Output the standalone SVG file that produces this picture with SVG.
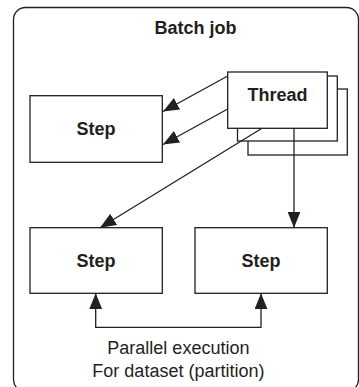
<svg xmlns="http://www.w3.org/2000/svg" width="359" height="387" viewBox="0 0 359 387">
<style>
.box{fill:#fff;stroke:#231f20;stroke-width:1.3}
.frame{fill:#fff;stroke:#231f20;stroke-width:1.3}
.lbl{font-family:"Liberation Sans",Arial,sans-serif;font-size:18px;font-weight:bold;fill:#231f20;text-anchor:middle}
.note{font-family:"Liberation Sans",Arial,sans-serif;font-size:18px;fill:#231f20;text-anchor:middle}
.conn{fill:none;stroke:#231f20;stroke-width:1.3}
</style>
<defs>
<marker id="ah" markerUnits="userSpaceOnUse" markerWidth="16" markerHeight="13" refX="16" refY="6.5" orient="auto-start-reverse" viewBox="0 0 16 13">
<path d="M0,0 L16,6.5 L0,13 z" fill="#231f20"/>
</marker>
</defs>
<g id="batch-job">
<rect class="frame" x="13.5" y="7.5" width="345" height="384" rx="12" ry="12"/>
<text class="lbl" x="195.5" y="34.3">Batch job</text>
</g>
<g id="thread">
<rect class="box" x="248" y="89" width="99.3" height="66"/>
<rect class="box" x="237.5" y="76" width="99.8" height="65"/>
<rect class="box" x="227.7" y="72" width="99.6" height="56.3"/>
<text class="lbl" x="277.5" y="100.7">Thread</text>
</g>
<g id="step-top">
<rect class="box" x="30" y="95.7" width="132.3" height="66.6"/>
<text class="lbl" x="96" y="135">Step</text>
</g>
<g id="step-bottom-left">
<rect class="box" x="30" y="227.7" width="132.3" height="65.6"/>
<text class="lbl" x="96" y="266.7">Step</text>
</g>
<g id="step-bottom-right">
<rect class="box" x="195" y="227.7" width="132.3" height="65.6"/>
<text class="lbl" x="261" y="266.7">Step</text>
</g>
<g id="connectors">
<line class="conn" x1="227.7" y1="76" x2="163" y2="111.5" marker-end="url(#ah)"/>
<line class="conn" x1="227.7" y1="109" x2="163" y2="144.5" marker-end="url(#ah)"/>
<line class="conn" x1="262" y1="128.3" x2="100" y2="227.7" marker-end="url(#ah)"/>
<line class="conn" x1="294" y1="128.3" x2="294" y2="227.7" marker-end="url(#ah)"/>
<path class="conn" d="M95.7,293.3 V327.3 H261 V293.3" marker-start="url(#ah)" marker-end="url(#ah)"/>
</g>
<g id="note">
<text class="note" x="178.4" y="354">Parallel execution</text>
<text class="note" x="178.4" y="376.5">For dataset (partition)</text>
</g>
</svg>
